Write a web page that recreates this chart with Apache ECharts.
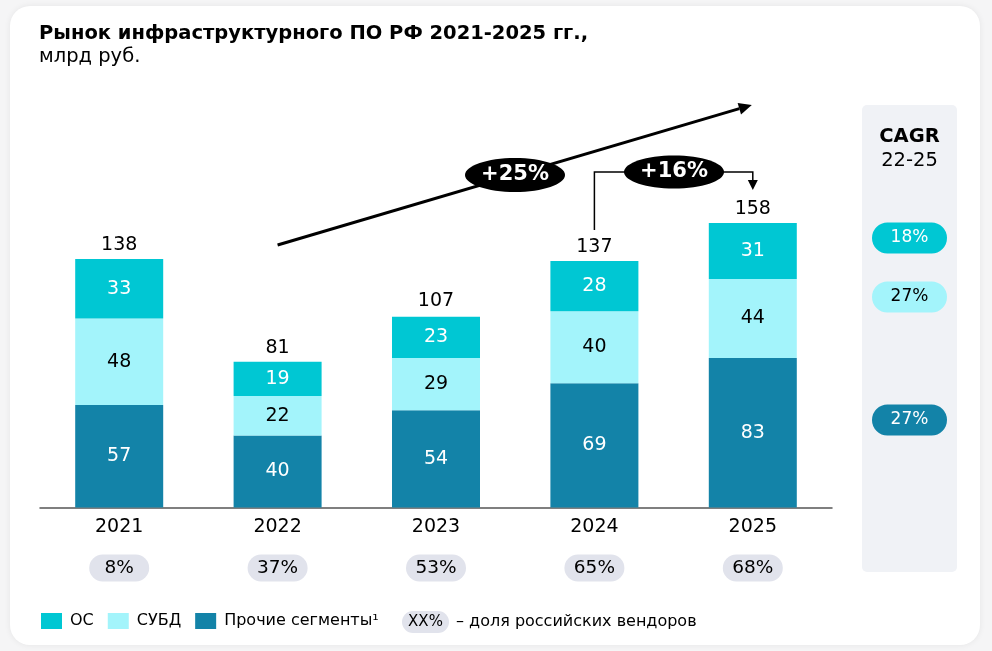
<!DOCTYPE html>
<html>
<head>
<meta charset="utf-8">
<script src="https://cdn.jsdelivr.net/npm/echarts@6/dist/echarts.min.js"></script>
<style>
body{margin:0;background:#f5f5f6;}
#card{position:absolute;left:10px;top:6px;width:970px;height:639px;background:#fff;border-radius:20px;box-shadow:0 0 6px rgba(0,0,0,0.07);}
#main{position:absolute;left:0;top:0;width:992px;height:651px;}
</style>
</head>
<body>
<div id="card"></div>
<div id="main"></div>
<script>
// данные
var years = ['2021', '2022', '2023', '2024', '2025'];
var osData = [33, 19, 23, 28, 31];
var dbData = [48, 22, 29, 40, 44];
var otherData = [57, 40, 54, 69, 83];
var totals = [138, 81, 107, 137, 158];
var ruShare = ['8%', '37%', '53%', '65%', '68%'];
var cagrValues = ['18%', '27%', '27%'];
var growthAll = '+25%';
var growthLast = '+16%';

var FONT = "'DejaVu Sans', Verdana, sans-serif";
var C_OS = '#00C7D3';
var C_DB = '#A3F4FB';
var C_OTHER = '#1383A8';
var C_PILL = '#E1E3EC';

var myChart = echarts.init(document.getElementById('main'));

function segLabel(color) {
	return {
		show: true,
		position: 'inside',
		color: color,
		fontSize: 19,
		fontFamily: FONT
	};
}

var option = {
	animation: false,
	textStyle: { fontFamily: FONT },
	title: {
		text: 'Рынок инфраструктурного ПО РФ 2021-2025 гг.,',
		subtext: 'млрд руб.',
		left: 39,
		top: 22,
		padding: 0,
		itemGap: -1,
		textStyle: { fontSize: 19.5, fontWeight: 'bold', color: '#000', lineHeight: 24, fontFamily: FONT },
		subtextStyle: { fontSize: 19.5, color: '#000', lineHeight: 24, fontFamily: FONT }
	},
	legend: {
		data: ['ОС', 'СУБД', 'Прочие сегменты¹'],
		left: 41,
		top: 613,
		padding: 0,
		icon: 'rect',
		itemWidth: 21,
		itemHeight: 16,
		itemGap: 14,
		selectedMode: false,
		textStyle: { fontSize: 16, color: '#000', padding: [0, 0, 0, 3], fontFamily: FONT }
	},
	grid: {
		left: 40,
		right: 160,
		top: 219.5,
		bottom: 143.5
	},
	xAxis: [{
		type: 'category',
		data: years,
		axisTick: { show: false },
		axisLine: { lineStyle: { color: '#555', width: 1.5 } },
		axisLabel: { color: '#000', fontSize: 19, margin: 10, fontFamily: FONT }
	}, {
		type: 'category',
		data: ruShare,
		position: 'bottom',
		offset: 40,
		axisTick: { show: false },
		axisLine: { show: false },
		axisLabel: {
			margin: 7,
			formatter: function(v) { return '{p|' + v + '}'; },
			rich: {
				p: {
					width: 60,
					height: 27,
					lineHeight: 27,
					align: 'center',
					backgroundColor: C_PILL,
					borderRadius: 14,
					fontSize: 18.5,
					color: '#000',
					fontFamily: FONT
				}
			}
		}
	}],
	yAxis: {
		type: 'value',
		min: 0,
		max: 160,
		show: false
	},
	series: [{
		name: 'Прочие сегменты¹',
		type: 'bar',
		stack: 'total',
		barWidth: 88,
		data: otherData,
		itemStyle: { color: C_OTHER },
		label: segLabel('#fff')
	}, {
		name: 'СУБД',
		type: 'bar',
		stack: 'total',
		barWidth: 88,
		data: dbData,
		itemStyle: { color: C_DB },
		label: segLabel('#000')
	}, {
		name: 'ОС',
		type: 'bar',
		stack: 'total',
		barWidth: 88,
		data: osData,
		itemStyle: { color: C_OS },
		label: segLabel('#fff')
	}, {
		name: 'Итого',
		type: 'scatter',
		data: totals,
		symbolSize: 1,
		itemStyle: { color: 'rgba(0,0,0,0)', opacity: 1 },
		label: {
			show: true,
			position: 'top',
			distance: 4,
			color: '#000',
			fontSize: 19,
			fontFamily: FONT
		},
		z: 5
	}]
};

myChart.setOption(option);

// аннотации
var p22 = myChart.convertToPixel({ xAxisIndex: 0, yAxisIndex: 0 }, ['2022', 81]);
var p24 = myChart.convertToPixel({ xAxisIndex: 0, yAxisIndex: 0 }, ['2024', 137]);
var p25 = myChart.convertToPixel({ xAxisIndex: 0, yAxisIndex: 0 }, ['2025', 158]);

var ax0 = p22[0], ay0 = 245;
var ax1 = p25[0] - 1, ay1 = 105;
var ang = Math.atan2(ay1 - ay0, ax1 - ax0);
var hl = 13, hw = 6;
var bx = ax1 - hl * Math.cos(ang), by = ay1 - hl * Math.sin(ang);
var midX = 515, midY = ay0 + (midX - ax0) * Math.tan(ang);

var brY = 172;
var brX0 = p24[0], brY0 = p24[1] - 31;
var brX1 = p25[0], brY1 = p25[1] - 33;

function pill(cx, cy, w, h, fill, text, color, size) {
	return {
		type: 'group',
		children: [{
			type: 'rect',
			shape: { x: cx - w / 2, y: cy - h / 2, width: w, height: h, r: h / 2 },
			style: { fill: fill }
		}, {
			type: 'text',
			x: cx,
			y: cy,
			style: { text: text, fill: color, fontSize: size, fontFamily: FONT, align: 'center', verticalAlign: 'middle' }
		}]
	};
}

myChart.setOption({
	graphic: [
		// общая стрелка роста
		{
			type: 'line',
			shape: { x1: ax0, y1: ay0, x2: bx, y2: by },
			style: { stroke: '#000', lineWidth: 3 }
		}, {
			type: 'polygon',
			shape: { points: [[ax1, ay1],
				[bx + hw * Math.sin(ang), by - hw * Math.cos(ang)],
				[bx - hw * Math.sin(ang), by + hw * Math.cos(ang)]] },
			style: { fill: '#000' }
		}, {
			type: 'ellipse',
			shape: { cx: midX, cy: midY, rx: 50, ry: 17 },
			style: { fill: '#000' }
		}, {
			type: 'text',
			x: midX,
			y: midY,
			style: { text: growthAll, fill: '#fff', fontSize: 21, fontWeight: 'bold', fontFamily: FONT, align: 'center', verticalAlign: 'middle' }
		},
		// скобка 2024 -> 2025
		{
			type: 'polyline',
			shape: { points: [[brX0, brY0], [brX0, brY], [brX1, brY], [brX1, brY1 - 9]] },
			style: { stroke: '#000', lineWidth: 1.5, fill: null }
		}, {
			type: 'polygon',
			shape: { points: [[brX1 - 5, brY1 - 10], [brX1 + 5, brY1 - 10], [brX1, brY1]] },
			style: { fill: '#000' }
		}, {
			type: 'ellipse',
			shape: { cx: 674, cy: brY, rx: 50, ry: 16.5 },
			style: { fill: '#000' }
		}, {
			type: 'text',
			x: 674,
			y: brY,
			style: { text: growthLast, fill: '#fff', fontSize: 21, fontWeight: 'bold', fontFamily: FONT, align: 'center', verticalAlign: 'middle' }
		},
		// панель CAGR
		{
			type: 'rect',
			shape: { x: 862, y: 105, width: 95, height: 467, r: 5 },
			style: { fill: '#F0F2F6' },
			z: -1
		}, {
			type: 'text',
			x: 909.5,
			y: 137,
			style: { text: 'CAGR', fill: '#000', fontSize: 19.5, fontWeight: 'bold', fontFamily: FONT, align: 'center', verticalAlign: 'middle' }
		}, {
			type: 'text',
			x: 909.5,
			y: 161,
			style: { text: '22-25', fill: '#000', fontSize: 19.5, fontFamily: FONT, align: 'center', verticalAlign: 'middle' }
		},
		pill(909.5, 238, 75, 31, C_OS, cagrValues[0], '#fff', 17),
		pill(909.5, 297, 75, 31, C_DB, cagrValues[1], '#000', 17),
		pill(909.5, 420, 75, 31, C_OTHER, cagrValues[2], '#fff', 17),
		// пояснение в легенде
		pill(425.5, 622, 47, 22, C_PILL, 'XX%', '#000', 15),
		{
			type: 'text',
			x: 456,
			y: 622,
			style: { text: '– доля российских вендоров', fill: '#000', fontSize: 16, fontFamily: FONT, align: 'left', verticalAlign: 'middle' }
		}
	]
});
</script>
</body>
</html>
